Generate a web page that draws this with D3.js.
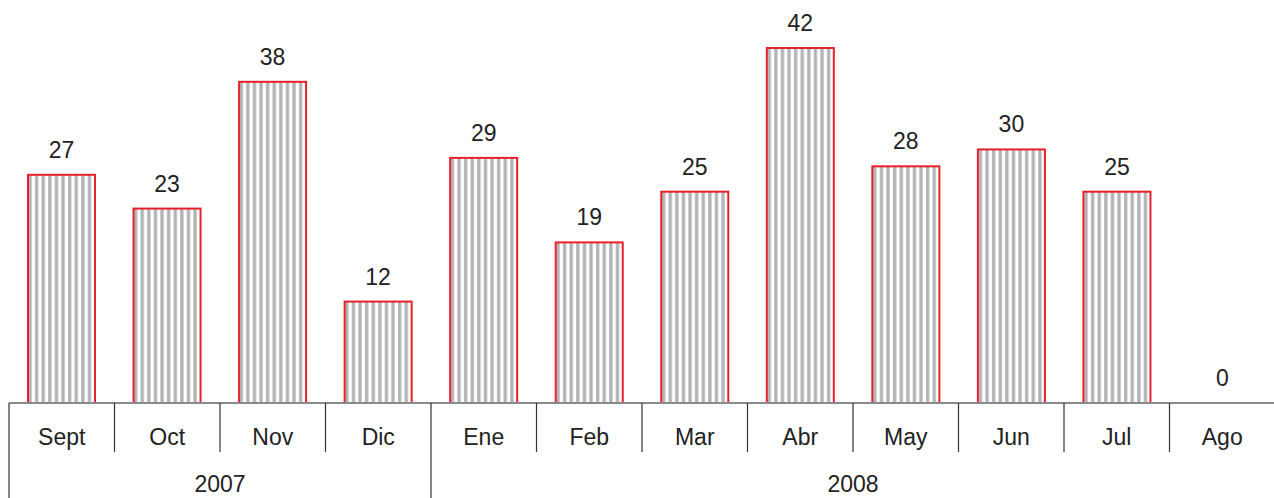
<html>
<head>
<script src="https://d3js.org/d3.v7.min.js"></script>
<style>
  body { margin: 0; background: #fff; }
  text { font-family: "Liberation Sans", Arial, sans-serif; fill: #222; }
</style>
</head>
<body>
<svg id="chart" width="1274" height="498"></svg>
<script>
const months = ["Sept", "Oct", "Nov", "Dic", "Ene", "Feb", "Mar", "Abr", "May", "Jun", "Jul", "Ago"];
const values = [27, 23, 38, 12, 29, 19, 25, 42, 28, 30, 25, 0];
const years = ["2007", "2008"];
const yearStart = [0, 4];   // index of first month of each year
const yearEnd = [4, 12];

const svg = d3.select("#chart");
const left = 9, right = 1275, baseY = 403, topY = 48;

const x = d3.scaleBand().domain(months).range([left, right]).paddingInner(0.365).paddingOuter(0.18);
const xCell = d3.scaleBand().domain(months).range([left, right]);
const y = d3.scaleLinear().domain([0, 42]).range([baseY, topY]);

// stripe pattern
const pat = svg.append("defs").append("pattern")
    .attr("id", "stripes")
    .attr("patternUnits", "userSpaceOnUse")
    .attr("width", 6.6).attr("height", 10);
pat.append("rect").attr("width", 6.6).attr("height", 10).attr("fill", "#fff");
pat.append("rect").attr("x", 2).attr("width", 3.3).attr("height", 10).attr("fill", "#b2b3b7");

const bars = svg.append("g");
months.forEach((m, i) => {
    if (values[i] > 0) {
        bars.append("rect")
            .attr("x", x(m))
            .attr("y", y(values[i]))
            .attr("width", x.bandwidth())
            .attr("height", y(0) - y(values[i]))
            .attr("fill", "url(#stripes)")
            .attr("stroke", "#e8202a")
            .attr("stroke-width", 2);
    }
    bars.append("text")
        .attr("x", x(m) + x.bandwidth() / 2)
        .attr("y", y(values[i]) - 17)
        .attr("text-anchor", "middle")
        .style("font-size", "23px")
        .text(values[i]);
});

// axis baseline
svg.append("line")
    .attr("x1", left).attr("x2", right)
    .attr("y1", baseY).attr("y2", baseY)
    .attr("stroke", "#8a8a8a").attr("stroke-width", 2);

// month separators
months.forEach((m, i) => {
    const xx = xCell(m);
    const long = yearStart.includes(i);
    svg.append("line")
        .attr("x1", xx).attr("x2", xx)
        .attr("y1", baseY).attr("y2", long ? 498 : 452)
        .attr("stroke", "#333").attr("stroke-width", 1.2);
    svg.append("text")
        .attr("x", xx + xCell.bandwidth() / 2)
        .attr("y", 445)
        .attr("text-anchor", "middle")
        .style("font-size", "23px")
        .text(m);
});

// year labels
years.forEach((yr, k) => {
    const x0 = xCell(months[yearStart[k]]);
    const x1 = yearEnd[k] < months.length ? xCell(months[yearEnd[k]]) : right;
    svg.append("text")
        .attr("x", (x0 + x1) / 2)
        .attr("y", 492)
        .attr("text-anchor", "middle")
        .style("font-size", "23px")
        .text(yr);
});
</script>
</body>
</html>
